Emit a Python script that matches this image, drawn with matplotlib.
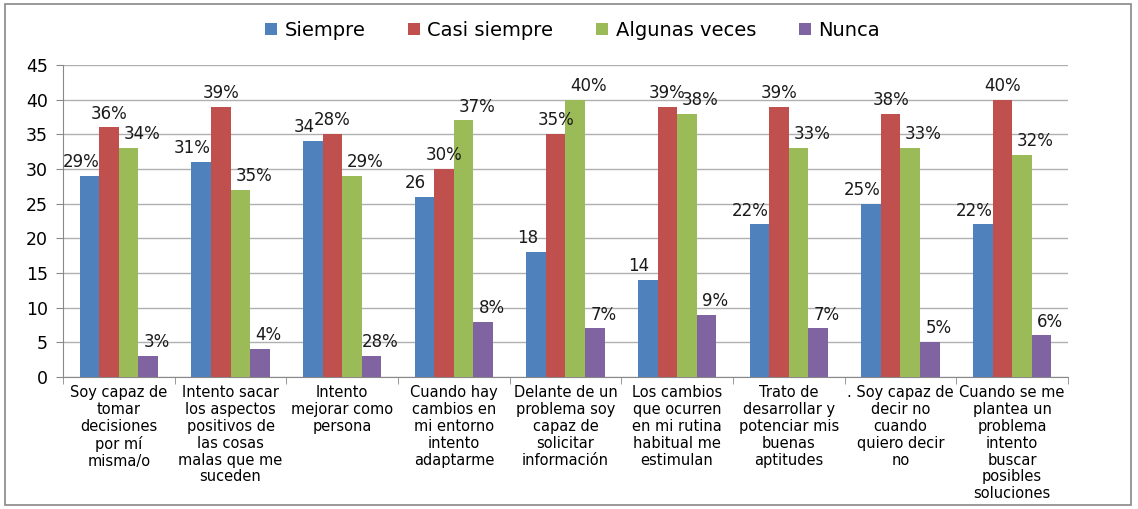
import matplotlib
matplotlib.use("Agg")
import matplotlib.pyplot as plt
import numpy as np
from matplotlib.patches import Rectangle

categories = [
    "Soy capaz de\ntomar\ndecisiones\npor mí\nmisma/o",
    "Intento sacar\nlos aspectos\npositivos de\nlas cosas\nmalas que me\nsuceden",
    "Intento\nmejorar como\npersona",
    "Cuando hay\ncambios en\nmi entorno\nintento\nadaptarme",
    "Delante de un\nproblema soy\ncapaz de\nsolicitar\ninformación",
    "Los cambios\nque ocurren\nen mi rutina\nhabitual me\nestimulan",
    "Trato de\ndesarrollar y\npotenciar mis\nbuenas\naptitudes",
    ". Soy capaz de\ndecir no\ncuando\nquiero decir\nno",
    "Cuando se me\nplantea un\nproblema\nintento\nbuscar\nposibles\nsoluciones",
]
series = ["Siempre", "Casi siempre", "Algunas veces", "Nunca"]

siempre = [29, 31, 34, 26, 18, 14, 22, 25, 22]
casi_siempre = [36, 39, 35, 30, 35, 39, 39, 38, 40]
algunas_veces = [33, 27, 29, 37, 40, 38, 33, 33, 32]
nunca = [3, 4, 3, 8, 7, 9, 7, 5, 6]

# labels as printed on the original (they don't always match the bars)
lbl_siempre = ["29%", "31%", "34", "26", "18", "14", "22%", "25%", "22%"]
lbl_casi = ["36%", "39%", "28%", "30%", "35%", "39%", "39%", "38%", "40%"]
lbl_algunas = ["34%", "35%", "29%", "37%", "40%", "38%", "33%", "33%", "32%"]
lbl_nunca = ["3%", "4%", "28%", "8%", "7%", "9%", "7%", "5%", "6%"]

colors = ["#4F81BD", "#C0504D", "#9BBB59", "#8064A2"]

fig = plt.figure(figsize=(11.38, 5.09), dpi=100)
ax = fig.add_axes([0.0554, 0.2593, 0.883, 0.613])

x = np.arange(len(categories))
w = 0.175
values = [siempre, casi_siempre, algunas_veces, nunca]
labels = [lbl_siempre, lbl_casi, lbl_algunas, lbl_nunca]
dx = [-0.08, 0.0, 0.12, 0.08]  # label shift per series, in category units

for i in range(4):
    pos = x + (i - 1.5) * w
    ax.bar(pos, values[i], w, color=colors[i], label=series[i], zorder=3)
    for p, v, t in zip(pos, values[i], labels[i]):
        ax.text(p + dx[i], v + 2.0, t, ha="center", va="center",
                fontsize=12, color="#1a1a1a", zorder=4)

ax.set_xlim(-0.5, len(categories) - 0.5)
ax.set_ylim(0, 45)
ax.set_yticks(range(0, 46, 5))
ax.yaxis.grid(True, color="#b0b0b0", linewidth=1, zorder=0)
ax.set_axisbelow(True)

ax.set_xticks(x)
ax.set_xticklabels(categories, fontsize=10.5, va="top", linespacing=1.15)
ax.set_xticks(np.arange(-0.5, len(categories), 1), minor=True)
ax.tick_params(axis="x", which="major", length=0, pad=6)
ax.tick_params(axis="x", which="minor", length=5, color="#888888")
ax.tick_params(axis="y", length=5, color="#888888", labelsize=12.5, pad=6)

for s in ["top", "right"]:
    ax.spines[s].set_visible(False)
for s in ["left", "bottom"]:
    ax.spines[s].set_color("#888888")

fig.legend(loc="center", bbox_to_anchor=(0.503, 0.941), ncol=4, frameon=False,
           fontsize=14, handlelength=0.6, handleheight=0.6, handletextpad=0.4,
           columnspacing=2.2)

fig.patches.append(Rectangle((0.004, 0.008), 0.99, 0.985, transform=fig.transFigure,
                             fill=False, edgecolor="#888888", linewidth=1.2))

fig.savefig("out.png", dpi=100)
